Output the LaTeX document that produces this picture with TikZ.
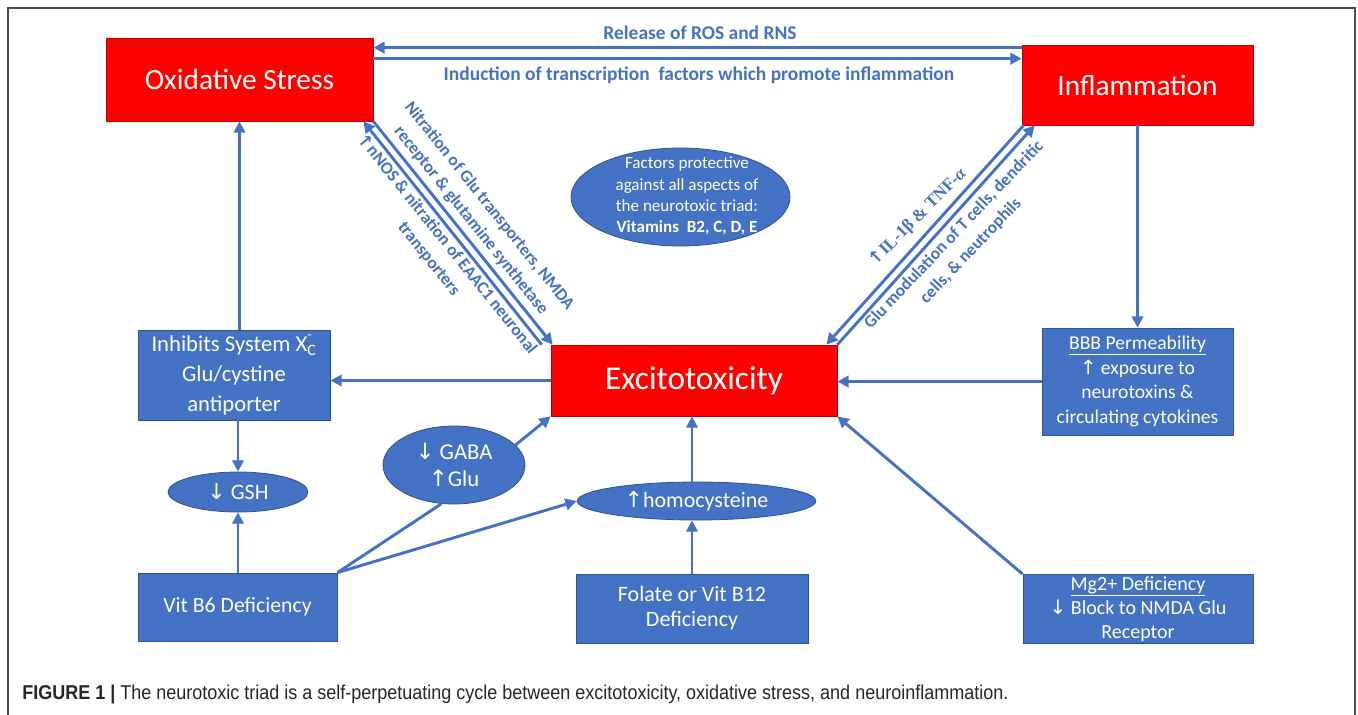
\documentclass[tikz,border=0pt]{standalone}
\usepackage{fontspec}
\setmainfont{Carlito}
\newfontfamily\capfont[FakeStretch=0.9]{Liberation Sans}
\newfontfamily\symf{DejaVu Sans}
\newfontfamily\serf{Liberation Serif}
\usetikzlibrary{arrows.meta,calc,shapes.geometric}
\definecolor{myblue}{HTML}{4472C4}
\definecolor{edgeblue}{HTML}{2F528F}
\definecolor{myred}{HTML}{FF0000}
\newcommand{\uparr}{{\symf ↑}}
\newcommand{\dnarr}{{\symf ↓}}
\begin{document}
\begin{tikzpicture}[x=0.75pt,y=-0.75pt,
 redbox/.style={draw=red!75!black, line width=0.5pt, fill=myred, text=white, inner sep=0pt},
 bluebox/.style={draw=edgeblue, line width=0.6pt, fill=myblue, text=white, align=center, inner sep=0pt},
 blueell/.style={ellipse, draw=edgeblue, line width=0.6pt, fill=myblue, inner sep=0pt},
 elltext/.style={text=white, align=center, inner sep=0pt},
 arr/.style={draw=myblue, line width=2.2pt, -{Triangle[length=8.5pt,width=8.5pt]}},
 plain/.style={draw=myblue, line width=2.2pt},
 lbl/.style={text=myblue, font=\bfseries\fontsize{14.6}{17}\selectfont, inner sep=0pt, align=center},
 dlbl/.style={text=myblue, font=\bfseries\fontsize{13}{17.5}\selectfont, inner sep=0pt, align=center}]
\useasboundingbox (0,0) rectangle (1358,714);
\draw[gray!60!black, line width=0.8pt] (8,716) -- (8,8) -- (1355,8) -- (1355,716);

% main boxes
\node[redbox, minimum width=200.25pt, minimum height=62.25pt, font=\fontsize{22}{26}\selectfont] (ox) at (239.5,79.5) {Oxidative Stress};
\node[redbox, minimum width=173.25pt, minimum height=60pt, font=\fontsize{22}{26}\selectfont] (inf) at (1137.5,85) {Inflammation};
\node[redbox, minimum width=214.5pt, minimum height=53.25pt, font=\fontsize{25}{30}\selectfont] (exc) at (694,380.5) {Excitotoxicity};

\node[bluebox, minimum width=144pt, minimum height=67.5pt, font=\fontsize{17}{22.5}\selectfont] (inh) at (234,375) {Inhibits System X\rlap{\raisebox{0.55em}{\fontsize{11}{11}\selectfont -}}\textsubscript{C}\\Glu/cystine\\antiporter};
\node[bluebox, minimum width=143.25pt, minimum height=80.25pt, font=\fontsize{14.7}{18.5}\selectfont] (bbb) at (1137.5,381.5) {\underline{BBB Permeability}\\\uparr{} exposure to\\neurotoxins \&\\circulating cytokines};
\node[bluebox, minimum width=149.25pt, minimum height=51pt, font=\fontsize{16.3}{19}\selectfont] (b6) at (237.5,607) {Vit B6 Deficiency};
\node[bluebox, minimum width=174pt, minimum height=51.75pt, font=\fontsize{16.5}{18.75}\selectfont] (fol) at (692,608.5) {Folate or Vit B12\\Deficiency};
\node[bluebox, minimum width=172.5pt, minimum height=51.75pt, font=\fontsize{15}{18}\selectfont] (mg) at (1138,609) {\underline{Mg2+ Deficiency}\\\dnarr{} Block to NMDA Glu\\Receptor};

% ellipses
\node[blueell, minimum width=105pt, minimum height=30pt] (gsh) at (238,492) {};
\node[elltext, font=\fontsize{16.5}{19}\selectfont] (gsht) at (gsh) {\dnarr{} GSH};
\node[blueell, minimum width=106.5pt, minimum height=58.5pt] (gaba) at (454,465) {};
\node[elltext, font=\fontsize{17}{20}\selectfont] (gabat) at (gaba) {\dnarr{} GABA\\\uparr Glu};
\node[blueell, minimum width=179pt, minimum height=28.5pt] (hcy) at (696.5,501) {};
\node[elltext, font=\fontsize{16.5}{19}\selectfont] (hcyt) at (hcy) {\uparr homocysteine};
\node[blueell, minimum width=164.25pt, minimum height=73.5pt] (fac) at (680.5,197) {};
\node[elltext, font=\fontsize{12.8}{16}\selectfont] (fact) at (687,196) {Factors protective\\against all aspects of\\the neurotoxic triad:\\\textbf{Vitamins\ \ B2, C, D, E}};

% labels
\node[lbl] (l1) at (700,33) {Release of ROS and RNS};
\node[lbl] (l2) at (699,75) {Induction of transcription\ \ factors which promote inflammation};
\node[dlbl, rotate=-51.3] (l3) at (480,213.5) {Nitration of Glu transporters, NMDA\\receptor \& glutamine synthetase};
\node[dlbl, rotate=-51.3] (l4) at (438,251.5) {\uparr nNOS \& nitration of EAAC1 neuronal\\transporters};
\node[dlbl, rotate=45] (l5) at (918,217) {\uparr{\serf IL-1β \& TNF-\textit{α}}};
\node[dlbl, rotate=46.5] (l6) at (962.5,243) {Glu modulation of T cells, dendritic\\cells, \& neutrophils};

% caption
\node[anchor=west, inner sep=0pt, text=black!85, font=\capfont\fontsize{15}{18}\selectfont] (cap) at (22,694) {\textbf{FIGURE 1 |} The neurotoxic triad is a self-perpetuating cycle between excitotoxicity, oxidative stress, and neuroinflammation.};

% connectors
\draw[arr] ($(inf.north west)+(0,3)$) -- ($(ox.north east)+(0,10)$);
\draw[arr] ($(ox.north east)+(0,21)$) -- ($(inf.north west)+(0,14)$);
\draw[arr] (inh.north -| ox.south) -- (ox.south);
\draw[arr] (inf.south) -- (bbb.north);
\draw[arr] (bbb.west) -- (bbb.west -| exc.east);
\draw[arr] (exc.west) -- (exc.west -| inh.east);
\draw[arr] (inh.south -| gsh.north) -- (gsh.north);
\draw[arr] (b6.north -| gsh.south) -- (gsh.south);
\draw[plain] (b6.north east) -- (gaba.-108);
\draw[arr] (gaba.18) -- (exc.south west);
\draw[arr] (b6.north east) -- (hcy.west);
\draw[arr] (fol.north |- hcy.north) -- (fol.north |- exc.south);
\draw[arr] (fol.north) -- (fol.north |- hcy.south);
\draw[arr] (mg.north west) -- (exc.south east);
\draw[arr] (ox.south east) -- ($(exc.north west)+(2,0)$);
\draw[arr] ($(exc.north west)+(-9,0)$) -- ($(ox.south east)+(-10,0)$);
\draw[arr] ($(inf.south west)+(2,0)$) -- ($(exc.north east)+(-11,0)$);
\draw[arr] (exc.north east) -- ($(inf.south west)+(13,0)$);
\end{tikzpicture}
\end{document}
